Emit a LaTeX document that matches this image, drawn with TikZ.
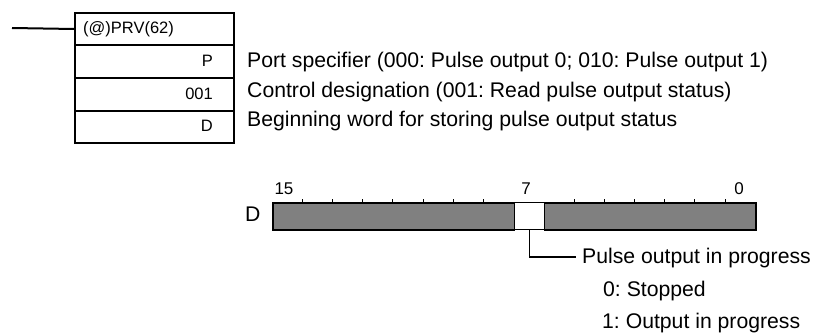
\documentclass[tikz,border=0pt]{standalone}
\usepackage{fontspec}
\setmainfont{Liberation Sans}
\frenchspacing
\definecolor{bargray}{HTML}{808080}
\tikzset{
  rowbox/.style={draw, line width=2pt, minimum width=159pt, inner sep=0pt, anchor=north west},
  boxlbl/.style={inner sep=0pt, font=\fontsize{16.5}{19}\selectfont},
  maintxt/.style={inner sep=0pt, anchor=base west, font=\fontsize{21.2}{24}\selectfont},
  bitlbl/.style={inner sep=0pt, anchor=base, font=\fontsize{17}{19}\selectfont},
  barseg/.style={draw, line width=1.7pt, fill=bargray, inner sep=0pt, minimum height=27pt, anchor=north west},
  bitbox/.style={draw, line width=1.3pt, fill=white, inner sep=0pt, minimum height=27pt, minimum width=30.2pt, anchor=north west},
  leader/.style={line width=1.1pt},
  tick/.style={line width=0.7pt}
}
\begin{document}
\begin{tikzpicture}[x=1pt,y=-1pt]
\useasboundingbox (0,0) rectangle (820,334);
% instruction block
\node[rowbox, minimum height=32pt] (hdr) at (74,12) {};
\node[rowbox, minimum height=33pt] (rowP) at (74,44) {};
\node[rowbox, minimum height=33pt] (rowC) at (74,77) {};
\node[rowbox, minimum height=32pt] (rowD) at (74,110) {};
\coordinate (in) at (12,28);
\draw[line width=2pt] (in) -- (hdr.west);
\node[boxlbl, anchor=base west] (name) at (83,34) {(@)PRV(62)};
\node[boxlbl, anchor=base east] (lP) at (213,67) {P};
\node[boxlbl, anchor=base east] (lC) at (213,100) {001};
\node[boxlbl, anchor=base east] (lD) at (213,132) {D};
\node[maintxt] (tP) at (247,68) {Port specifier (000: Pulse output 0; 010: Pulse output 1)};
\node[maintxt] (tC) at (247,98) {Control designation (001: Read pulse output status)};
\node[maintxt] (tD) at (247,127) {Beginning word for storing pulse output status};
% bit bar
\node[barseg, minimum width=241.5pt] (barL) at (272,202) {};
\node[barseg, minimum width=211.3pt] (barR) at (543.7,202) {};
\node[bitbox] (bit7) at (513.5,202) {};
\foreach \k in {1,...,7,10,11,12,13,14,15}
  \draw[tick] (272+30.19*\k,202) -- ++(0,-2.5);
\node[bitlbl] (b15) at (284,195) {15};
\node[bitlbl] (b7) at (526,195) {7};
\node[bitlbl] (b0) at (739,195) {0};
\node[maintxt] (dlbl) at (245,222) {D};
% leader and description
\node[maintxt] (pulse) at (582,263) {Pulse output in progress};
\node[maintxt] (s0) at (603,296) {0: Stopped};
\node[maintxt] (s1) at (602,328) {1: Output in progress};
\coordinate (lt) at (576,257);
\draw[leader] (bit7.south) |- (lt);
\end{tikzpicture}
\end{document}
